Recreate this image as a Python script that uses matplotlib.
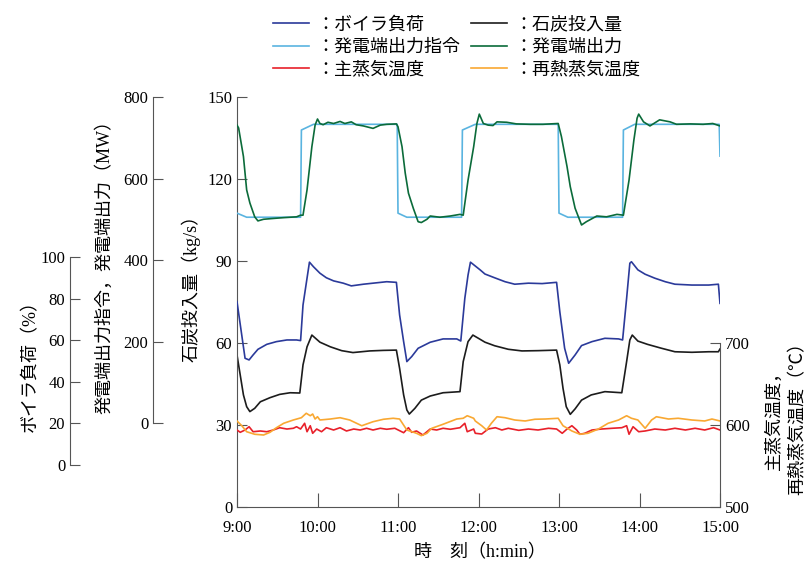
import matplotlib
matplotlib.use("Agg")
import matplotlib.pyplot as plt

plt.rcParams['font.family'] = ['Liberation Serif', 'Noto Sans CJK JP']

# 時刻 [h]
cmd_t = [9.00, 9.12, 9.79, 9.80, 9.95, 10.99, 11.00, 11.11, 11.79, 11.80, 11.96,
         12.99, 13.00, 13.11, 13.79, 13.80, 13.94, 14.99, 15.00]
cmd_mw = [515, 505, 505, 719, 733, 733, 515, 505, 505, 719, 733,
          733, 515, 505, 505, 719, 733, 733, 655]

out_t = [9.00, 9.02, 9.08, 9.12, 9.16, 9.22, 9.26, 9.33, 9.45, 9.58, 9.74, 9.79, 9.82,
         9.87, 9.93, 9.97, 10.00, 10.03, 10.07, 10.13, 10.20, 10.28, 10.34, 10.42, 10.48,
         10.57, 10.69, 10.78, 10.86, 10.98, 11.00, 11.05, 11.09, 11.13, 11.19, 11.25,
         11.29, 11.36, 11.40, 11.52, 11.65, 11.77, 11.81, 11.87, 11.94, 11.98, 12.01,
         12.06, 12.12, 12.18, 12.23, 12.35, 12.47, 12.64, 12.80, 12.99, 13.03, 13.10,
         13.14, 13.20, 13.28, 13.34, 13.47, 13.59, 13.72, 13.80, 13.87, 13.93, 13.97,
         13.99, 14.05, 14.13, 14.25, 14.38, 14.46, 14.63, 14.79, 14.91, 15.00]
out_mw = [731, 724, 654, 572, 540, 506, 496, 500, 502, 504, 506, 510, 510,
          572, 678, 731, 746, 735, 732, 738, 735, 740, 735, 739, 732,
          729, 723, 731, 733, 734, 727, 678, 613, 564, 527, 494,
          492, 500, 508, 505, 508, 512, 510, 596, 678, 735, 758,
          735, 731, 730, 739, 738, 734, 733, 733, 735, 703, 629,
          580, 527, 486, 494, 508, 506, 512, 510, 596, 694, 748,
          758, 739, 729, 744, 739, 733, 734, 733, 735, 729]

boiler_t = [9.00, 9.10, 9.15, 9.20, 9.26, 9.37, 9.49, 9.62, 9.74, 9.79, 9.82, 9.87,
            9.90, 9.95, 10.03, 10.11, 10.20, 10.32, 10.42, 10.57, 10.69, 10.86, 10.98,
            11.02, 11.07, 11.11, 11.17, 11.25, 11.40, 11.56, 11.73, 11.78, 11.83, 11.87,
            11.90, 12.02, 12.08, 12.20, 12.33, 12.45, 12.62, 12.79, 12.97, 13.01, 13.07,
            13.12, 13.20, 13.28, 13.41, 13.57, 13.74, 13.79, 13.84, 13.88, 13.90, 13.98,
            14.07, 14.19, 14.32, 14.44, 14.65, 14.86, 14.98, 15.00]
boiler_pct = [78.5, 51.3, 50.5, 52.9, 55.6, 58.0, 59.3, 60.1, 60.1, 59.8, 76.9, 89.8,
              97.5, 95.3, 92.2, 90.0, 88.5, 87.4, 86.1, 86.9, 87.4, 88.1, 87.8,
              72.1, 59.3, 49.7, 52.1, 56.1, 59.0, 60.6, 60.6, 59.6, 80.1, 91.3,
              97.5, 93.8, 91.8, 90.0, 88.1, 86.9, 87.4, 87.2, 87.8, 73.7, 56.1,
              48.9, 52.9, 57.4, 59.3, 60.9, 60.6, 60.1, 80.1, 97.0, 97.7, 93.8,
              91.7, 89.8, 88.1, 86.9, 86.5, 86.5, 86.9, 77.7]

coal_t = [9.00, 9.04, 9.08, 9.12, 9.16, 9.22, 9.29, 9.41, 9.53, 9.66, 9.78, 9.82, 9.87,
          9.93, 10.03, 10.16, 10.30, 10.44, 10.65, 10.82, 10.98, 11.02, 11.07, 11.11,
          11.14, 11.21, 11.29, 11.40, 11.56, 11.77, 11.81, 11.87, 11.93, 12.00, 12.08,
          12.20, 12.37, 12.54, 12.74, 12.97, 13.01, 13.05, 13.09, 13.14, 13.20, 13.28,
          13.40, 13.57, 13.78, 13.84, 13.88, 13.91, 13.98, 14.10, 14.27, 14.44, 14.65,
          14.86, 14.98, 15.00]
coal_kgs = [55.6, 48.3, 41.0, 36.7, 34.9, 36.1, 38.5, 40.0, 41.2, 41.8, 41.7, 52.0, 58.6,
            62.9, 60.3, 58.6, 57.2, 56.5, 57.1, 57.3, 57.4, 50.7, 41.0, 35.5,
            34.0, 36.1, 39.1, 40.6, 41.8, 42.2, 53.2, 60.5, 62.9, 61.7, 60.3,
            59.0, 57.7, 57.1, 57.2, 57.4, 52.0, 43.4, 36.7, 33.9, 35.9, 39.1,
            41.0, 42.2, 41.8, 53.2, 61.1, 62.9, 60.7, 59.5, 58.1, 56.8, 56.6,
            56.8, 56.8, 57.8]

ms_t = [9.00, 9.04, 9.10, 9.15, 9.20, 9.29, 9.37, 9.45, 9.53, 9.62, 9.70, 9.74, 9.79,
        9.84, 9.87, 9.91, 9.94, 9.99, 10.05, 10.11, 10.20, 10.28, 10.36, 10.45, 10.53,
        10.61, 10.69, 10.78, 10.86, 10.96, 11.07, 11.13, 11.17, 11.23, 11.31, 11.40,
        11.48, 11.56, 11.65, 11.77, 11.83, 11.86, 11.94, 11.96, 12.04, 12.12, 12.21,
        12.29, 12.37, 12.50, 12.62, 12.74, 12.87, 12.97, 13.04, 13.10, 13.16, 13.22,
        13.26, 13.32, 13.41, 13.53, 13.66, 13.78, 13.84, 13.87, 13.92, 13.99, 14.07,
        14.19, 14.32, 14.44, 14.57, 14.69, 14.81, 14.92, 15.00]
ms_temp = [593.9, 591.1, 593.9, 597.9, 591.8, 592.7, 591.8, 593.9, 596.7, 595.1, 596.0,
           597.9, 595.1, 602.1, 591.8, 599.1, 589.9, 595.1, 591.8, 596.7, 593.9, 596.7,
           592.7, 595.1, 593.9, 596.0, 593.9, 596.0, 594.8, 596.0, 590.6, 596.7, 591.1,
           592.7, 587.8, 595.1, 593.9, 596.0, 594.8, 596.7, 602.1, 591.8, 595.1, 589.9,
           589.0, 595.1, 596.7, 593.9, 596.0, 593.5, 595.1, 593.9, 596.0, 595.1, 589.9,
           595.1, 599.1, 593.9, 588.7, 589.9, 593.9, 595.1, 596.0, 596.7, 599.1, 588.7,
           597.9, 591.8, 592.7, 595.1, 593.9, 596.0, 593.9, 596.0, 593.9, 596.7, 593.9]

rh_t = [9.00, 9.06, 9.12, 9.22, 9.33, 9.41, 9.49, 9.58, 9.70, 9.80, 9.86, 9.91, 9.94,
        9.97, 10.00, 10.03, 10.16, 10.28, 10.40, 10.55, 10.69, 10.82, 10.94, 11.02,
        11.11, 11.23, 11.29, 11.36, 11.42, 11.56, 11.73, 11.81, 11.86, 11.94, 11.96,
        12.04, 12.10, 12.16, 12.23, 12.33, 12.45, 12.58, 12.70, 12.83, 12.99, 13.05,
        13.16, 13.26, 13.36, 13.49, 13.61, 13.74, 13.84, 13.90, 13.98, 14.07, 14.15,
        14.21, 14.36, 14.48, 14.65, 14.81, 14.90, 15.00]
rh_temp = [604.9, 599.1, 591.8, 588.7, 587.8, 591.1, 596.7, 602.1, 606.1, 608.9, 614.3,
           611.3, 613.4, 607.3, 610.1, 606.1, 607.3, 608.9, 606.1, 599.1, 604.0, 607.0,
           608.2, 607.3, 593.9, 589.9, 587.0, 589.9, 596.0, 600.9, 607.3, 608.2, 611.3,
           608.2, 604.9, 599.1, 593.9, 602.1, 610.1, 608.9, 606.1, 604.9, 607.0, 607.3,
           608.2, 599.1, 592.7, 588.7, 589.9, 595.1, 602.1, 606.1, 611.3, 608.2, 606.1,
           596.0, 606.1, 610.1, 607.3, 608.2, 606.1, 604.9, 607.3, 604.9]

hours = [9, 10, 11, 12, 13, 14, 15]
hour_labels = ["9:00", "10:00", "11:00", "12:00", "13:00", "14:00", "15:00"]

c_boiler = '#2b3a9a'
c_coal = '#1c1c1c'
c_cmd = '#5ab4e0'
c_out = '#0b6b3a'
c_ms = '#e8202a'
c_rh = '#f9a832'
spine_c = '#555555'
lw = 1.2

W, H = 809, 567
fig = plt.figure(figsize=(W / 100, H / 100), dpi=100)
x0, x1, y0, y1 = 237, 720, 97, 507
ax = fig.add_axes([x0 / W, 1 - y1 / H, (x1 - x0) / W, (y1 - y0) / H])
aw = x1 - x0

# 石炭投入量 axis
ax.set_xlim(9, 15)
ax.set_ylim(0, 150)
ax.set_yticks([0, 30, 60, 90, 120, 150])
ax.set_xticks(hours)
ax.set_xticklabels(hour_labels)
ax.tick_params(axis='x', direction='in', length=10, color=spine_c, labelsize=12, pad=9)
ax.tick_params(axis='y', direction='in', length=7, color=spine_c, labelsize=12)
ax.spines['top'].set_visible(False)
ax.spines['right'].set_visible(False)
for s in ['left', 'bottom']:
    ax.spines[s].set_color(spine_c)
ax.patch.set_visible(False)

# 温度 axis (right)
axT = ax.twinx()
axT.set_ylim(500, 1000)
axT.set_yticks([500, 600, 700])
axT.spines['right'].set_bounds(500, 700)
axT.spines['right'].set_color(spine_c)
for s in ['top', 'left', 'bottom']:
    axT.spines[s].set_visible(False)
axT.tick_params(axis='y', direction='in', length=7, color=spine_c, labelsize=12)

# 出力 axis (MW)
axP = ax.twinx()
axP.set_ylim(-206, 800)
axP.set_yticks([0, 200, 400, 600, 800])
axP.yaxis.set_ticks_position('left')
axP.yaxis.set_label_position('left')
axP.spines['left'].set_visible(True)
axP.spines['left'].set_position(('axes', -84 / aw))
axP.spines['left'].set_bounds(0, 800)
axP.spines['left'].set_color(spine_c)
for s in ['top', 'right', 'bottom']:
    axP.spines[s].set_visible(False)
axP.tick_params(axis='y', direction='in', length=7, color=spine_c, labelsize=12)

# ボイラ負荷 axis (%)
axB = ax.twinx()
axB.set_ylim(-20.2, 176.9)
axB.set_yticks([0, 20, 40, 60, 80, 100])
axB.yaxis.set_ticks_position('left')
axB.yaxis.set_label_position('left')
axB.spines['left'].set_visible(True)
axB.spines['left'].set_position(('axes', -167 / aw))
axB.spines['left'].set_bounds(0, 100)
axB.spines['left'].set_color(spine_c)
for s in ['top', 'right', 'bottom']:
    axB.spines[s].set_visible(False)
axB.tick_params(axis='y', direction='in', length=7, color=spine_c, labelsize=12)

l_ms, = axT.plot(ms_t, ms_temp, color=c_ms, lw=lw)
l_rh, = axT.plot(rh_t, rh_temp, color=c_rh, lw=lw)
l_coal, = ax.plot(coal_t, coal_kgs, color=c_coal, lw=lw)
l_boiler, = axB.plot(boiler_t, boiler_pct, color=c_boiler, lw=lw)
l_cmd, = axP.plot(cmd_t, cmd_mw, color=c_cmd, lw=lw)
l_out, = axP.plot(out_t, out_mw, color=c_out, lw=lw)

fs = 13
fig.text(31 / W, 1 - 361 / H, "ボイラ負荷（%）", rotation=90, ha='center', va='center', fontsize=fs)
fig.text(104 / W, 1 - 262 / H, "発電端出力指令，発電端出力（MW）", rotation=90, ha='center', va='center', fontsize=fs)
fig.text(191 / W, 1 - 284 / H, "石炭投入量（kg/s）", rotation=90, ha='center', va='center', fontsize=fs)
fig.text(774 / W, 1 - 416 / H, "主蒸気温度，", rotation=90, ha='center', va='center', fontsize=fs)
fig.text(798 / W, 1 - 414 / H, "再熱蒸気温度（℃）", rotation=90, ha='center', va='center', fontsize=fs)
fig.text(480 / W, 1 - 553 / H, "時　刻（h:min）", ha='center', va='center', fontsize=fs)

handles = [l_boiler, l_cmd, l_ms, l_coal, l_out, l_rh]
labels = ["：ボイラ負荷", "：発電端出力指令", "：主蒸気温度",
          "：石炭投入量", "：発電端出力", "：再熱蒸気温度"]
fig.legend(handles, labels, loc='upper left', bbox_to_anchor=(260 / W, 1 - 4 / H), ncol=2,
           frameon=False, fontsize=fs, handlelength=2.0, handletextpad=0.4,
           columnspacing=0.6, labelspacing=0.3, borderpad=0.2)

fig.savefig("out.png", dpi=100)
